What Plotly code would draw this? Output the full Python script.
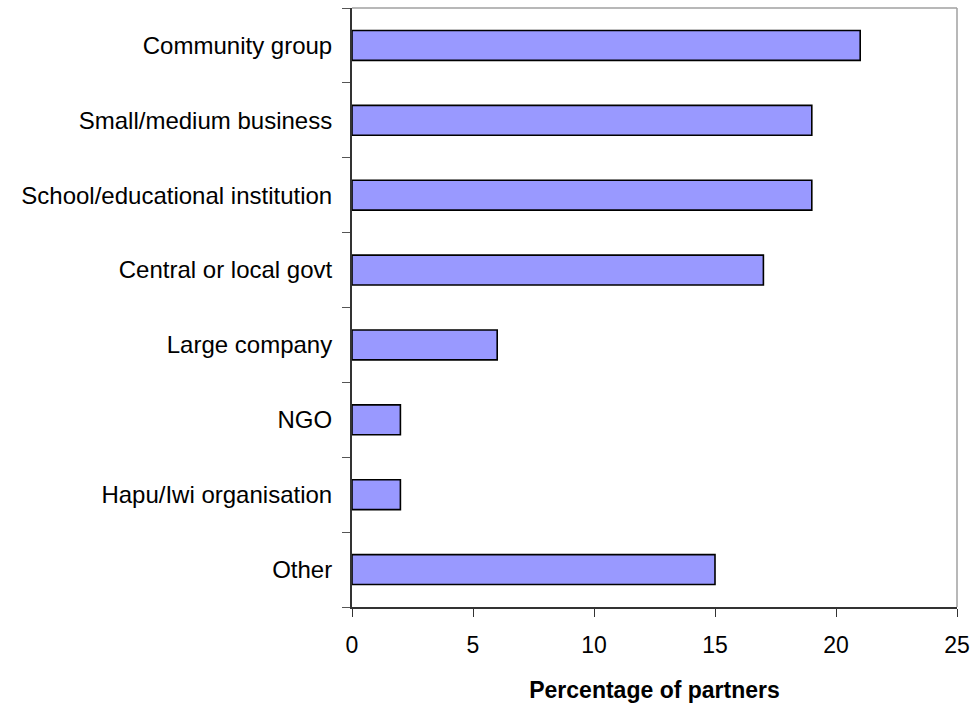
import plotly.graph_objects as go

categories = [
    "Community group",
    "Small/medium business",
    "School/educational institution",
    "Central or local govt",
    "Large company",
    "NGO",
    "Hapu/Iwi organisation",
    "Other",
]
percentages = [21, 19, 19, 17, 6, 2, 2, 15]
x_ticks = [0, 5, 10, 15, 20, 25]

fig = go.Figure(
    go.Bar(
        x=percentages,
        y=categories,
        orientation="h",
        marker=dict(color="#9999FF", line=dict(color="#000000", width=1.6)),
        width=0.4,
    )
)

font_family = "Liberation Sans, Arial, sans-serif"

fig.update_layout(
    width=973,
    height=704,
    margin=dict(l=352, r=16, t=8, b=97),
    plot_bgcolor="white",
    paper_bgcolor="white",
    font=dict(family=font_family, size=24, color="#000000"),
    showlegend=False,
    xaxis=dict(
        range=[0, 25],
        tickvals=x_ticks,
        ticks="outside",
        ticklen=8,
        tickcolor="#333333",
        showgrid=False,
        zeroline=False,
        showline=True,
        linecolor="#333333",
        linewidth=1.5,
        automargin=False,
        ticklabelstandoff=9,
        title=dict(
            text="<b>Percentage of partners</b>",
            font=dict(size=23),
            standoff=25,
        ),
        tickfont=dict(size=23),
    ),
    yaxis=dict(
        categoryorder="array",
        categoryarray=categories[::-1],
        autorange=False,
        range=[-0.5, len(categories) - 0.5],
        tickson="boundaries",
        ticks="outside",
        ticklen=8,
        tickcolor="#555555",
        showgrid=False,
        zeroline=False,
        showline=True,
        linecolor="#333333",
        linewidth=2,
        automargin=False,
        tickfont=dict(size=24),
        ticklabelstandoff=13,
    ),
    shapes=[
        dict(type="line", xref="paper", yref="paper", x0=0, x1=1, y0=1, y1=1,
             line=dict(color="#A0A0A0", width=1.5)),
        dict(type="line", xref="paper", yref="paper", x0=1, x1=1, y0=0, y1=1,
             line=dict(color="#A0A0A0", width=1.5)),
    ],
)

fig.write_html("out.html")
